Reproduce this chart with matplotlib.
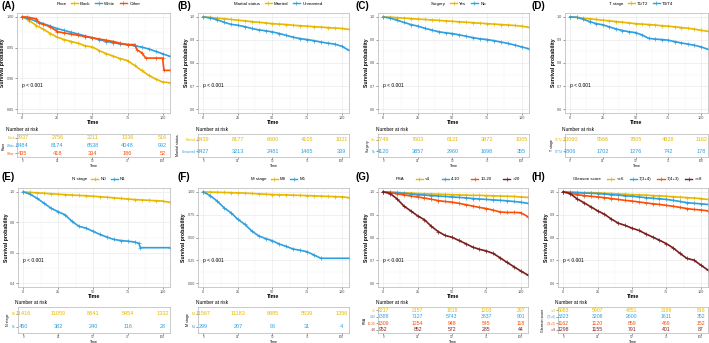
import matplotlib
matplotlib.use("Agg")
import matplotlib.pyplot as plt
from matplotlib.lines import Line2D
from matplotlib.ticker import AutoMinorLocator

plt.rcParams["font.family"] = ["Liberation Sans", "DejaVu Sans"]

W, H = 709, 343
YELLOW, BLUE, RED, DARK = "#E7B800", "#2E9FDF", "#FC4E07", "#7B1E1E"

# ---------------------------------------------------------------- data
months = [0, 5, 10, 15, 20, 25, 30, 35, 40, 45, 50, 55, 60, 65, 70, 75, 80, 85, 90, 95, 100, 105]
risk_times = [0, 25, 50, 75, 100]

# (A) Race
race_groups = ["Black", "White", "Other"]
race_black = [1.0, 0.994, 0.986, 0.980, 0.973, 0.967, 0.963, 0.960, 0.957, 0.953, 0.951,
              0.945, 0.940, 0.936, 0.932, 0.929, 0.921, 0.913, 0.905, 0.899, 0.894, 0.893]
race_white = [1.0, 0.997, 0.993, 0.989, 0.985, 0.981, 0.978, 0.975, 0.972, 0.969, 0.966,
              0.963, 0.960, 0.958, 0.956, 0.955, 0.953, 0.951, 0.948, 0.944, 0.940, 0.936]
race_other_t = [0, 3, 5, 10, 12, 15, 20, 25, 30, 35, 40, 45, 50, 55, 60, 65, 70, 75, 80, 82,
                85, 88, 95, 100, 101, 105]
race_other = [1.0, 1.0, 0.999, 0.997, 0.990, 0.988, 0.984, 0.976, 0.974, 0.972, 0.970, 0.968,
              0.966, 0.964, 0.962, 0.960, 0.957, 0.955, 0.955, 0.946, 0.942, 0.933, 0.933,
              0.933, 0.913, 0.913]
race_risk = [[2937, 2756, 2211, 1336, 516],
             [8484, 8174, 6538, 4048, 992],
             [435, 418, 334, 186, 52]]

# (B) Marital status
marital_groups = ["Married", "Unmarried"]
marital_married = [1.0, 0.998, 0.995, 0.992, 0.989, 0.986, 0.983, 0.980, 0.977, 0.974, 0.971,
                   0.969, 0.967, 0.964, 0.962, 0.960, 0.958, 0.956, 0.954, 0.952, 0.950, 0.946]
marital_unmarried = [1.0, 0.996, 0.988, 0.977, 0.968, 0.964, 0.958, 0.950, 0.944, 0.940, 0.935,
                     0.928, 0.920, 0.912, 0.906, 0.902, 0.897, 0.891, 0.886, 0.882, 0.873, 0.856]
marital_risk = [[8439, 8177, 6600, 4105, 1021],
                [3427, 3213, 2481, 1465, 339]]

# (C) Surgery
surgery_groups = ["Yes", "No"]
surgery_yes = [1.0, 0.999, 0.997, 0.995, 0.993, 0.991, 0.989, 0.987, 0.985, 0.983, 0.981,
               0.979, 0.977, 0.975, 0.973, 0.971, 0.969, 0.967, 0.965, 0.963, 0.960, 0.955]
surgery_no = [1.0, 0.995, 0.986, 0.976, 0.967, 0.960, 0.951, 0.943, 0.936, 0.931, 0.928,
              0.922, 0.916, 0.910, 0.905, 0.902, 0.897, 0.891, 0.885, 0.878, 0.870, 0.862]
surgery_risk = [[7746, 7603, 6121, 3872, 1005],
                [4120, 3857, 2960, 1698, 355]]

# (D) T stage
tstage_groups = ["T1/T2", "T3/T4"]
tstage_t12 = [1.0, 0.998, 0.995, 0.992, 0.989, 0.986, 0.983, 0.980, 0.977, 0.974, 0.971,
              0.969, 0.967, 0.965, 0.962, 0.960, 0.957, 0.954, 0.951, 0.947, 0.942, 0.938]
tstage_t34 = [1.0, 0.999, 0.990, 0.980, 0.971, 0.966, 0.957, 0.948, 0.941, 0.936, 0.932,
              0.922, 0.907, 0.904, 0.902, 0.899, 0.893, 0.887, 0.882, 0.877, 0.870, 0.860]
tstage_risk = [[10060, 9566, 7805, 4828, 1162],
               [1806, 1702, 1276, 742, 178]]

# (E) N stage
nstage_groups = ["N0", "N1"]
nstage_n0 = [1.0, 0.997, 0.994, 0.991, 0.988, 0.985, 0.982, 0.979, 0.977, 0.975, 0.972,
             0.968, 0.965, 0.961, 0.957, 0.953, 0.950, 0.947, 0.945, 0.942, 0.940, 0.931]
nstage_n1_t = [0, 5, 10, 15, 20, 25, 30, 35, 40, 45, 50, 55, 60, 65, 70, 75, 80, 83, 84, 105]
nstage_n1 = [1.0, 0.985, 0.957, 0.925, 0.892, 0.870, 0.849, 0.806, 0.773, 0.762, 0.741,
             0.720, 0.703, 0.687, 0.680, 0.676, 0.670, 0.661, 0.633, 0.633]
nstage_risk = [[11416, 11059, 8841, 5454, 1332],
               [450, 382, 240, 116, 28]]

# (F) M stage
mstage_groups = ["M0", "M1"]
mstage_m0 = [1.0, 0.998, 0.996, 0.994, 0.992, 0.990, 0.987, 0.983, 0.979, 0.975, 0.971,
             0.969, 0.967, 0.964, 0.962, 0.960, 0.957, 0.954, 0.951, 0.949, 0.946, 0.938]
mstage_m1_t = [0, 5, 10, 15, 20, 25, 30, 35, 40, 45, 50, 55, 60, 65, 70, 75, 80, 85, 105]
mstage_m1 = [1.0, 0.960, 0.900, 0.826, 0.772, 0.699, 0.645, 0.572, 0.518, 0.489, 0.464,
             0.428, 0.402, 0.373, 0.360, 0.344, 0.308, 0.272, 0.272]
mstage_risk = [[11567, 11183, 8985, 5539, 1356],
               [299, 207, 96, 31, 4]]

# (G) PSA
psa_groups = ["<4", "4-10", "10-20", ">20"]
psa_lt4 = [1.0, 0.999, 0.998, 0.996, 0.995, 0.993, 0.992, 0.991, 0.990, 0.989, 0.988,
           0.987, 0.986, 0.985, 0.985, 0.984, 0.983, 0.982, 0.981, 0.980, 0.978, 0.976]
psa_4_10 = [1.0, 0.998, 0.996, 0.994, 0.991, 0.988, 0.986, 0.984, 0.982, 0.980, 0.978,
            0.976, 0.974, 0.971, 0.969, 0.967, 0.965, 0.963, 0.961, 0.958, 0.955, 0.950]
psa_10_20 = [1.0, 0.997, 0.992, 0.987, 0.982, 0.978, 0.973, 0.968, 0.962, 0.958, 0.955,
             0.950, 0.944, 0.938, 0.932, 0.927, 0.920, 0.912, 0.910, 0.910, 0.909, 0.892]
psa_gt20 = [1.0, 0.993, 0.970, 0.938, 0.917, 0.895, 0.878, 0.849, 0.826, 0.809, 0.801,
            0.787, 0.773, 0.758, 0.748, 0.741, 0.730, 0.711, 0.691, 0.672, 0.653, 0.636]
psa_risk = [[2217, 2157, 1818, 1203, 297],
            [7388, 7127, 5743, 3837, 901],
            [1309, 1254, 948, 545, 118],
            [952, 852, 572, 285, 44]]

# (H) Gleason score
gleason_groups = ["<=6", "7(3+4)", "7(4+3)", ">=8"]
gleason_le6 = [1.0, 0.999, 0.998, 0.997, 0.997, 0.996, 0.994, 0.993, 0.991, 0.990, 0.988,
               0.987, 0.986, 0.984, 0.983, 0.981, 0.979, 0.977, 0.975, 0.973, 0.971, 0.967]
gleason_34 = [1.0, 0.998, 0.997, 0.995, 0.994, 0.993, 0.991, 0.988, 0.986, 0.983, 0.981,
              0.978, 0.975, 0.972, 0.970, 0.967, 0.963, 0.958, 0.953, 0.950, 0.948, 0.945]
gleason_43 = [1.0, 0.995, 0.988, 0.984, 0.981, 0.978, 0.975, 0.971, 0.967, 0.963, 0.960,
              0.956, 0.952, 0.948, 0.945, 0.941, 0.937, 0.932, 0.927, 0.923, 0.921, 0.917]
gleason_ge8 = [1.0, 0.993, 0.970, 0.953, 0.935, 0.917, 0.902, 0.881, 0.863, 0.853, 0.841,
               0.831, 0.816, 0.802, 0.788, 0.773, 0.754, 0.730, 0.708, 0.701, 0.679, 0.658]
gleason_risk = [[6083, 5907, 4851, 3189, 816],
                [3323, 3208, 2600, 1611, 352],
                [1162, 1120, 859, 469, 152],
                [1298, 1155, 791, 401, 87]]

PANELS = [
    dict(tag="(A)", name="Race", groups=race_groups, colors=[YELLOW, BLUE, RED],
         curves=[(months, race_black), (months, race_white), (race_other_t, race_other)],
         risk=race_risk, yticks=[0.85, 0.90, 0.95, 1.00], yfmt="{:.2f}"),
    dict(tag="(B)", name="Marital status", groups=marital_groups, colors=[YELLOW, BLUE],
         curves=[(months, marital_married), (months, marital_unmarried)],
         risk=marital_risk, yticks=[0.6, 0.7, 0.8, 0.9, 1.0], yfmt="{:.1f}"),
    dict(tag="(C)", name="Surgery", groups=surgery_groups, colors=[YELLOW, BLUE],
         curves=[(months, surgery_yes), (months, surgery_no)],
         risk=surgery_risk, yticks=[0.6, 0.7, 0.8, 0.9, 1.0], yfmt="{:.1f}"),
    dict(tag="(D)", name="T stage", groups=tstage_groups, colors=[YELLOW, BLUE],
         curves=[(months, tstage_t12), (months, tstage_t34)],
         risk=tstage_risk, yticks=[0.6, 0.7, 0.8, 0.9, 1.0], yfmt="{:.1f}"),
    dict(tag="(E)", name="N stage", groups=nstage_groups, colors=[YELLOW, BLUE],
         curves=[(months, nstage_n0), (nstage_n1_t, nstage_n1)],
         risk=nstage_risk, yticks=[0.4, 0.6, 0.8, 1.0], yfmt="{:.1f}"),
    dict(tag="(F)", name="M stage", groups=mstage_groups, colors=[YELLOW, BLUE],
         curves=[(months, mstage_m0), (mstage_m1_t, mstage_m1)],
         risk=mstage_risk, yticks=[0.0, 0.25, 0.5, 0.75, 1.0], yfmt="{:.2f}"),
    dict(tag="(G)", name="PSA", groups=psa_groups, colors=[YELLOW, BLUE, RED, DARK],
         curves=[(months, psa_lt4), (months, psa_4_10), (months, psa_10_20), (months, psa_gt20)],
         risk=psa_risk, yticks=[0.6, 0.7, 0.8, 0.9, 1.0], yfmt="{:.1f}"),
    dict(tag="(H)", name="Gleason score", groups=gleason_groups, colors=[YELLOW, BLUE, RED, DARK],
         curves=[(months, gleason_le6), (months, gleason_34), (months, gleason_43), (months, gleason_ge8)],
         risk=gleason_risk, yticks=[0.6, 0.7, 0.8, 0.9, 1.0], yfmt="{:.1f}"),
]

# layout in pixels: axes left, axes right, row, letter x, "Number at risk" x, legend column spacing
BOXES = [(17, 170, 0, 1, 6, 1.0), (198, 349, 0, 177, 196, 1.0), (378, 529, 0, 355, 376, 1.0),
         (565, 708, 0, 532, 562, 1.0), (18, 170, 1, 1, 15, 1.0), (198, 349, 1, 177, 196, 1.0),
         (378, 528, 1, 355, 376, 2.6), (558, 708, 1, 532, 555, 1.3)]
ROWS = [dict(y0=1, top=13, bottom=113, ttop=134, tbot=157),
        dict(y0=172, top=188, bottom=287, ttop=307, tbot=333)]

SPINE = "#B5B5B5"
TICKC = "#4D4D4D"
XLIM = (-3.8, 105.3)


def px_axes(fig, left, top, right, bottom):
    return fig.add_axes([left / W, 1 - bottom / H, (right - left) / W, (bottom - top) / H])


def style_axes(ax, size, pad=0.8):
    for s in ax.spines.values():
        s.set_color(SPINE)
        s.set_linewidth(0.5)
    ax.tick_params(length=1.2, width=0.4, color=TICKC, labelsize=size, labelcolor=TICKC, pad=pad)


def draw_panel(fig, p, box):
    left, right, row, letter_x, title_x, colsp = box
    g = ROWS[row]
    fig.text(letter_x / W, 1 - g["y0"] / H, p["tag"], fontsize=7, weight="bold", va="top", ha="left")

    ax = px_axes(fig, left, g["top"], right, g["bottom"])
    style_axes(ax, 2.7)
    lo, hi = p["yticks"][0], p["yticks"][-1]
    pad = 0.043 * (hi - lo)
    ax.set_ylim(lo - pad, hi + pad)
    ax.set_xlim(*XLIM)
    ax.set_xticks(risk_times)
    ax.set_yticks(p["yticks"])
    ax.set_yticklabels([p["yfmt"].format(v) for v in p["yticks"]])
    ax.xaxis.set_minor_locator(AutoMinorLocator(2))
    ax.yaxis.set_minor_locator(AutoMinorLocator(2))
    ax.grid(which="major", color="#E6E6E6", lw=0.4)
    ax.grid(which="minor", color="#F2F2F2", lw=0.3)
    ax.tick_params(which="minor", length=0)
    ax.set_axisbelow(True)
    for (t, s), c in zip(p["curves"], p["colors"]):
        ax.plot(t, s, color=c, lw=1.2, marker="+", ms=2.2, mew=0.5)
    ax.set_xlabel("Time", fontsize=3.8, weight="bold", labelpad=0.5)
    ax.set_ylabel("Survival probability", fontsize=3.7, weight="bold", labelpad=1)
    ax.text(0.035, 0.27, "p < 0.001", transform=ax.transAxes, fontsize=3.5, va="center")

    handles = [Line2D([], [], color="none", label=p["name"])]
    handles += [Line2D([], [], color=c, lw=1.0, marker="+", ms=2.2, mew=0.5, label=n)
                for n, c in zip(p["groups"], p["colors"])]
    hpx = g["bottom"] - g["top"]
    ax.legend(handles=handles, loc="center", bbox_to_anchor=(0.5, 1 + 9 / hpx), ncol=len(handles),
              frameon=False, fontsize=3.2, handlelength=1.6, handletextpad=0.5,
              columnspacing=colsp, borderpad=0, borderaxespad=0)

    # risk table
    tab = px_axes(fig, left, g["ttop"], right, g["tbot"])
    style_axes(tab, 2.2, pad=0.5)
    n = len(p["groups"])
    tab.set_xlim(*XLIM)
    tab.set_ylim(-0.5, n - 0.5)
    tab.set_xticks(risk_times)
    tab.set_yticks([n - 1 - i for i in range(n)])
    tab.set_yticklabels(p["groups"])
    for lab, c in zip(tab.get_yticklabels(), p["colors"]):
        lab.set_color(c)
    num_size = 4 if n < 4 else 3.7
    for i, (vals, c) in enumerate(zip(p["risk"], p["colors"])):
        for t, v in zip(risk_times, vals):
            tab.text(t, n - 1 - i, str(v), color=c, fontsize=num_size, ha="center", va="center")
    tab.set_xlabel("Time", fontsize=2.6, labelpad=0.3)
    tab.set_ylabel(p["name"], fontsize=2.6, labelpad=1)
    fig.text(title_x / W, 1 - (g["ttop"] - 2) / H, "Number at risk", fontsize=3.5, va="bottom", ha="left")


def main() -> None:
    fig = plt.figure(figsize=(W / 100, H / 100), dpi=100)
    for p, box in zip(PANELS, BOXES):
        draw_panel(fig, p, box)
    fig.savefig("out.png", dpi=100)
    plt.close(fig)


if __name__ == "__main__":
    main()
